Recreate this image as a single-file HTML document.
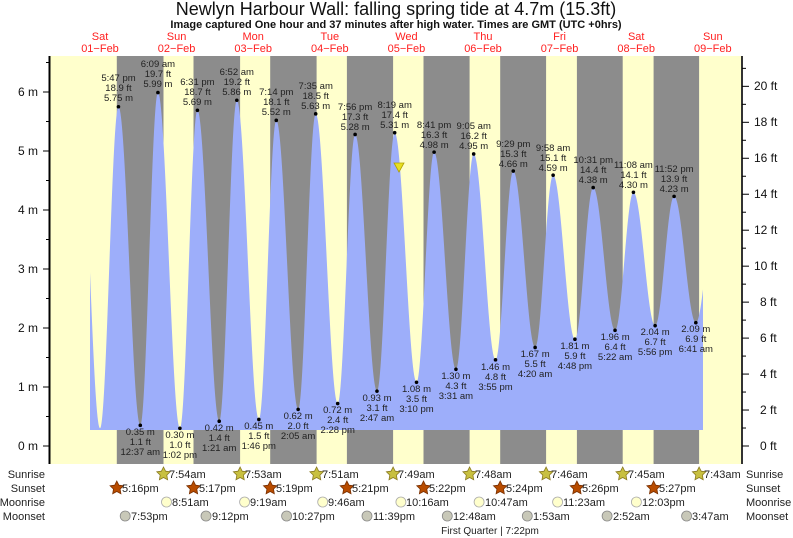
<!DOCTYPE html>
<html><head><meta charset="utf-8"><style>
html,body{margin:0;padding:0;background:#fff;}
svg{display:block;font-family:"Liberation Sans",sans-serif;}
.t{font-size:9.5px;fill:#222;text-anchor:middle;}
.r{font-size:11px;fill:#ff2020;text-anchor:middle;}
.ax{font-size:12px;fill:#111;}
.bl{font-size:11px;fill:#222;}
</style></head><body>
<svg id="s" width="793" height="538" viewBox="0 0 793 538" xmlns="http://www.w3.org/2000/svg">
<text x="396" y="15" font-size="18" text-anchor="middle" fill="#111">Newlyn Harbour Wall: falling  spring tide at 4.7m (15.3ft)</text>
<text x="396" y="28" font-size="11" font-weight="bold" text-anchor="middle" fill="#111">Image captured One hour and 37 minutes after high water. Times are GMT (UTC +0hrs)</text>
<g class="r">
<text x="100" y="40">Sat</text><text x="100" y="52">01−Feb</text>
<text x="176.6" y="40">Sun</text><text x="176.6" y="52">02−Feb</text>
<text x="253.2" y="40">Mon</text><text x="253.2" y="52">03−Feb</text>
<text x="329.8" y="40">Tue</text><text x="329.8" y="52">04−Feb</text>
<text x="406.4" y="40">Wed</text><text x="406.4" y="52">05−Feb</text>
<text x="483" y="40">Thu</text><text x="483" y="52">06−Feb</text>
<text x="559.6" y="40">Fri</text><text x="559.6" y="52">07−Feb</text>
<text x="636.2" y="40">Sat</text><text x="636.2" y="52">08−Feb</text>
<text x="712.8" y="40">Sun</text><text x="712.8" y="52">09−Feb</text>
</g>
<rect x="50" y="56" width="692" height="408" fill="#ffffcc"/>
<g fill="#8c8c8c">
<rect x="116.8" y="56" width="46.7" height="408"/>
<rect x="193.5" y="56" width="46.6" height="408"/>
<rect x="270.2" y="56" width="46.4" height="408"/>
<rect x="346.9" y="56" width="46.2" height="408"/>
<rect x="423.5" y="56" width="46.1" height="408"/>
<rect x="500.2" y="56" width="45.9" height="408"/>
<rect x="576.9" y="56" width="45.8" height="408"/>
<rect x="653.6" y="56" width="45.5" height="408"/>
</g>
<path id="tide" fill="#9daefa" d=""/>
<polygon points="394,163 404,163 399,172" fill="#e8e020" stroke="#b0a000" stroke-width="0.8"/>
<g id="dots" fill="#000"></g>
<g class="t">
<text x="118.5" y="81">5:47 pm</text><text x="118.5" y="91">18.9 ft</text><text x="118.5" y="101">5.75 m</text>
<text x="157.9" y="67">6:09 am</text><text x="157.9" y="77">19.7 ft</text><text x="157.9" y="87">5.99 m</text>
<text x="197.4" y="85">6:31 pm</text><text x="197.4" y="95">18.7 ft</text><text x="197.4" y="105">5.69 m</text>
<text x="236.8" y="75">6:52 am</text><text x="236.8" y="85">19.2 ft</text><text x="236.8" y="95">5.86 m</text>
<text x="276.3" y="95">7:14 pm</text><text x="276.3" y="105">18.1 ft</text><text x="276.3" y="115">5.52 m</text>
<text x="315.7" y="89">7:35 am</text><text x="315.7" y="99">18.5 ft</text><text x="315.7" y="109">5.63 m</text>
<text x="355.1" y="110">7:56 pm</text><text x="355.1" y="120">17.3 ft</text><text x="355.1" y="130">5.28 m</text>
<text x="394.7" y="108">8:19 am</text><text x="394.7" y="118">17.4 ft</text><text x="394.7" y="128">5.31 m</text>
<text x="434.1" y="128">8:41 pm</text><text x="434.1" y="138">16.3 ft</text><text x="434.1" y="148">4.98 m</text>
<text x="473.7" y="129">9:05 am</text><text x="473.7" y="139">16.2 ft</text><text x="473.7" y="149">4.95 m</text>
<text x="513.3" y="147">9:29 pm</text><text x="513.3" y="157">15.3 ft</text><text x="513.3" y="167">4.66 m</text>
<text x="553.1" y="151">9:58 am</text><text x="553.1" y="161">15.1 ft</text><text x="553.1" y="171">4.59 m</text>
<text x="593.2" y="163">10:31 pm</text><text x="593.2" y="173">14.4 ft</text><text x="593.2" y="183">4.38 m</text>
<text x="633.4" y="168">11:08 am</text><text x="633.4" y="178">14.1 ft</text><text x="633.4" y="188">4.30 m</text>
<text x="674.1" y="172">11:52 pm</text><text x="674.1" y="182">13.9 ft</text><text x="674.1" y="192">4.23 m</text>
<text x="140.3" y="435">0.35 m</text><text x="140.3" y="445">1.1 ft</text><text x="140.3" y="455">12:37 am</text>
<text x="179.9" y="438">0.30 m</text><text x="179.9" y="448">1.0 ft</text><text x="179.9" y="458">1:02 pm</text>
<text x="219.2" y="431">0.42 m</text><text x="219.2" y="441">1.4 ft</text><text x="219.2" y="451">1:21 am</text>
<text x="258.8" y="429">0.45 m</text><text x="258.8" y="439">1.5 ft</text><text x="258.8" y="449">1:46 pm</text>
<text x="298.1" y="419">0.62 m</text><text x="298.1" y="429">2.0 ft</text><text x="298.1" y="439">2:05 am</text>
<text x="337.7" y="413">0.72 m</text><text x="337.7" y="423">2.4 ft</text><text x="337.7" y="433">2:28 pm</text>
<text x="377" y="401">0.93 m</text><text x="377" y="411">3.1 ft</text><text x="377" y="421">2:47 am</text>
<text x="416.5" y="392">1.08 m</text><text x="416.5" y="402">3.5 ft</text><text x="416.5" y="412">3:10 pm</text>
<text x="455.9" y="379">1.30 m</text><text x="455.9" y="389">4.3 ft</text><text x="455.9" y="399">3:31 am</text>
<text x="495.5" y="370">1.46 m</text><text x="495.5" y="380">4.8 ft</text><text x="495.5" y="390">3:55 pm</text>
<text x="535.1" y="357">1.67 m</text><text x="535.1" y="367">5.5 ft</text><text x="535.1" y="377">4:20 am</text>
<text x="574.9" y="349">1.81 m</text><text x="574.9" y="359">5.9 ft</text><text x="574.9" y="369">4:48 pm</text>
<text x="615.1" y="340">1.96 m</text><text x="615.1" y="350">6.4 ft</text><text x="615.1" y="360">5:22 am</text>
<text x="655.1" y="335">2.04 m</text><text x="655.1" y="345">6.7 ft</text><text x="655.1" y="355">5:56 pm</text>
<text x="695.8" y="332">2.09 m</text><text x="695.8" y="342">6.9 ft</text><text x="695.8" y="352">6:41 am</text>
</g>
<line x1="49.5" y1="56" x2="49.5" y2="464" stroke="#000" stroke-width="2"/>
<line x1="742" y1="56" x2="742" y2="464" stroke="#333" stroke-width="2"/>
<g id="ticks" stroke="#000" stroke-width="1"></g>
<g class="ax" text-anchor="end">
<text x="38" y="450">0 m</text><text x="38" y="391">1 m</text><text x="38" y="332">2 m</text><text x="38" y="273">3 m</text><text x="38" y="214">4 m</text><text x="38" y="155">5 m</text><text x="38" y="96">6 m</text>
</g>
<g class="ax">
<text x="760" y="450">0 ft</text><text x="760" y="414">2 ft</text><text x="760" y="378">4 ft</text><text x="760" y="342">6 ft</text><text x="760" y="306">8 ft</text><text x="754" y="270">10 ft</text><text x="754" y="234">12 ft</text><text x="754" y="198">14 ft</text><text x="754" y="162">16 ft</text><text x="754" y="126">18 ft</text><text x="754" y="90">20 ft</text>
</g>
<g class="bl" text-anchor="end">
<text x="45" y="478">Sunrise</text><text x="45" y="492">Sunset</text><text x="45" y="506">Moonrise</text><text x="45" y="520">Moonset</text>
</g>
<g class="bl">
<text x="746" y="478">Sunrise</text><text x="746" y="492">Sunset</text><text x="746" y="506">Moonrise</text><text x="746" y="520">Moonset</text>
</g>
<g id="icons"></g>
<g class="bl" font-size="10.5">
<text x="169" y="478">7:54am</text><text x="245" y="478">7:53am</text><text x="322" y="478">7:51am</text><text x="398" y="478">7:49am</text><text x="475" y="478">7:48am</text><text x="551" y="478">7:46am</text><text x="628" y="478">7:45am</text><text x="704" y="478">7:43am</text>
<text x="122" y="492">5:16pm</text><text x="199" y="492">5:17pm</text><text x="276" y="492">5:19pm</text><text x="352" y="492">5:21pm</text><text x="429" y="492">5:22pm</text><text x="506" y="492">5:24pm</text><text x="582" y="492">5:26pm</text><text x="659" y="492">5:27pm</text>
<text x="172" y="506">8:51am</text><text x="250" y="506">9:19am</text><text x="328" y="506">9:46am</text><text x="406" y="506">10:16am</text><text x="485" y="506">10:47am</text><text x="563" y="506">11:23am</text><text x="642" y="506">12:03pm</text>
<text x="131" y="520">7:53pm</text><text x="212" y="520">9:12pm</text><text x="292" y="520">10:27pm</text><text x="373" y="520">11:39pm</text><text x="453" y="520">12:48am</text><text x="533" y="520">1:53am</text><text x="613" y="520">2:52am</text><text x="692" y="520">3:47am</text>
<text x="490" y="534" text-anchor="middle" font-size="10">First Quarter | 7:22pm</text>
</g>
</svg>
<script>
(function(){
var E=[[5.5,5.9],[12,0.3],[17.78,5.75],[24.62,0.35],[30.15,5.99],[37.03,0.30],[42.52,5.69],[49.35,0.42],[54.87,5.86],[61.77,0.45],[67.23,5.52],[74.08,0.62],[79.58,5.63],[86.47,0.72],[91.93,5.28],[98.78,0.93],[104.32,5.31],[111.17,1.08],[116.68,4.98],[123.52,1.30],[129.08,4.95],[135.92,1.46],[141.48,4.66],[148.33,1.67],[153.97,4.59],[160.80,1.81],[166.52,4.38],[173.37,1.96],[179.13,4.30],[185.93,2.04],[191.87,4.23],[198.68,2.09],[205,4.1]];
function X(t){return 61.7+3.1917*t;}function Y(h){return 446-59*h;}
var d="M90,430";
for(var x=90;x<=703;x+=0.5){var t=(x-61.7)/3.1917,h=0;
for(var i=0;i<E.length-1;i++){if(t>=E[i][0]&&t<=E[i+1][0]){var f=(t-E[i][0])/(E[i+1][0]-E[i][0]);h=E[i][1]+(E[i+1][1]-E[i][1])*(1-Math.cos(Math.PI*f))/2;break;}}
d+=" L"+x.toFixed(1)+","+Math.min(Y(h),430).toFixed(1);}
d+=" L703,430 Z";document.getElementById("tide").setAttribute("d",d);
var ns="http://www.w3.org/2000/svg";
function el(g,n,a){var e=document.createElementNS(ns,n);for(var k in a)e.setAttribute(k,a[k]);g.appendChild(e);}
var dots=document.getElementById("dots");
for(var i=2;i<E.length-1;i++)el(dots,"circle",{cx:X(E[i][0]),cy:Y(E[i][1]),r:1.8});
var tk=document.getElementById("ticks");
for(var m=0;m<=6.5;m+=0.5){var y=Y(m);el(tk,"line",{x1:m%1==0?43:46,x2:50,y1:y,y2:y});}
for(var f=0;f<=21;f++){var y=446-59*f*0.3048;el(tk,"line",{x1:742,x2:f%2==0?749:746,y1:y,y2:y});}
var ic=document.getElementById("icons");
function star(cx,cy,r,fill,st){var p=[];for(var i=0;i<10;i++){var a=-Math.PI/2+i*Math.PI/5,rr=i%2?r*0.5:r;p.push((cx+rr*Math.cos(a)).toFixed(1)+","+(cy+rr*Math.sin(a)).toFixed(1));}el(ic,"polygon",{points:p.join(" "),fill:fill,stroke:st,"stroke-width":0.8});}
[163.5,240.1,316.6,393.1,469.6,546.1,622.7,699.1].forEach(function(x){star(x,474,7,"#c8c040","#8a7a20");});
[116.8,193.5,270.2,346.9,423.5,500.2,576.9,653.6].forEach(function(x){star(x,488,7,"#b84c00","#7a3000");});
[166.5,244.6,322.7,400.9,479.1,557.6,636.4].forEach(function(x){el(ic,"circle",{cx:x,cy:502,r:5,fill:"#ffffcc",stroke:"#aaa","stroke-width":0.8});});
[125.2,206,286.6,367,447.3,527.3,607.1,686.6].forEach(function(x){el(ic,"circle",{cx:x,cy:516,r:5,fill:"#c8c8b8",stroke:"#888","stroke-width":0.8});});
})();
</script>
</body></html>
